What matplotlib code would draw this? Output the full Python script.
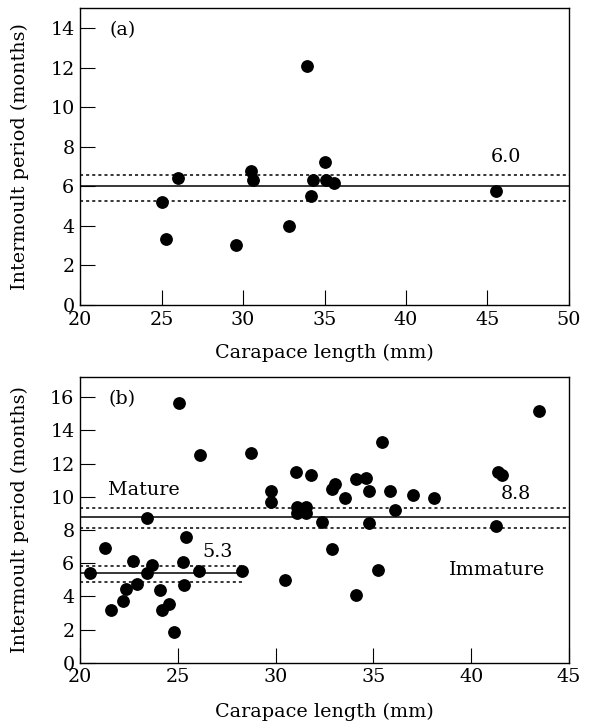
import matplotlib
matplotlib.use('Agg')
import matplotlib.pyplot as plt

# Panel (a) data
a_length = [25.0, 25.3, 26.0, 29.6, 30.5, 30.6, 32.8, 33.9, 34.2, 34.3, 35.0, 35.1, 35.6, 45.5]
a_period = [5.2, 3.35, 6.4, 3.05, 6.8, 6.3, 4.0, 12.1, 5.5, 6.3, 7.25, 6.3, 6.15, 5.75]
a_mean = 6.0
a_band = [5.27, 6.58]

# Panel (b) data
b_length = [20.5, 21.3, 21.6, 22.2, 22.35, 22.7, 22.9, 23.4, 23.45, 23.7, 24.1, 24.2,
            24.55, 24.8, 25.05, 25.25, 25.3, 25.4, 26.1, 26.15, 28.3, 28.75, 29.75, 29.75,
            30.5, 31.05, 31.1, 31.1, 31.55, 31.55, 31.8, 32.35, 32.9, 32.9, 33.05, 33.55,
            34.1, 34.1, 34.6, 34.8, 34.8, 35.25, 35.45, 35.85, 36.1, 37.0, 38.1, 41.25,
            41.35, 41.6, 43.45]
b_period = [5.4, 6.9, 3.2, 3.7, 4.45, 6.1, 4.75, 5.4, 8.7, 5.9, 4.4, 3.2,
            3.55, 1.85, 15.65, 6.05, 4.7, 7.55, 5.5, 12.5, 5.5, 12.65, 10.35, 9.7,
            5.0, 11.5, 9.4, 9.05, 9.4, 9.0, 11.3, 8.5, 10.45, 6.85, 10.75, 9.9,
            11.1, 4.1, 11.15, 10.35, 8.4, 5.6, 13.3, 10.35, 9.2, 10.1, 9.9, 8.25,
            11.5, 11.3, 15.15]
mature_mean = 8.8
mature_band = [8.14, 9.35]
immature_mean = 5.38
immature_band = [4.85, 5.83]
immature_max_len = 28.35

plt.rcParams['font.family'] = ['DejaVu Serif']
plt.rcParams['font.size'] = 13.8

fig = plt.figure(figsize=(5.9, 7.25), dpi=100)
ax1 = fig.add_axes([0.1356, 0.5793, 0.8288, 0.4092])
ax2 = fig.add_axes([0.1356, 0.0859, 0.8288, 0.3937])


def style(ax, xlab_y):
    ax.tick_params(direction='in', length=10.5, width=0.8, top=False, right=False, pad=4)
    for s in ax.spines.values():
        s.set_linewidth(1.0)
    ax.set_xlabel("Carapace length (mm)", va='center')
    ax.set_ylabel("Intermoult period (months)", va='center')
    ax.xaxis.set_label_coords(0.5, xlab_y)
    ax.yaxis.set_label_coords(-0.123, 0.5)


# (a)
ax1.axhline(a_mean, color='black', lw=1.1)
for v in a_band:
    ax1.axhline(v, color='black', lw=1.1, ls=(0, (2, 2)))
ax1.plot(a_length, a_period, 'o', color='black', ms=8.2, zorder=3)
ax1.text(22.6, 13.9, "(a)", ha='center', va='center')
ax1.text(46.15, 7.5, "6.0", ha='center', va='center')
ax1.set_xlim(20, 50)
ax1.set_ylim(0, 15)
ax1.set_xticks(range(20, 51, 5))
ax1.set_yticks(range(0, 15, 2))
style(ax1, -0.162)

# (b)
ax2.axhline(mature_mean, color='black', lw=1.1)
for v in mature_band:
    ax2.axhline(v, color='black', lw=1.1, ls=(0, (2, 2)))
ax2.plot([20, immature_max_len], [immature_mean] * 2, color='black', lw=1.1)
for v in immature_band:
    ax2.plot([20, immature_max_len], [v] * 2, color='black', lw=1.1, ls=(0, (2, 2)))
ax2.plot(b_length, b_period, 'o', color='black', ms=8.2, zorder=3, clip_on=False)
ax2.text(22.15, 15.9, "(b)", ha='center', va='center')
ax2.text(23.25, 10.4, "Mature", ha='center', va='center')
ax2.text(41.3, 5.6, "Immature", ha='center', va='center')
ax2.text(42.3, 10.15, "8.8", ha='center', va='center')
ax2.text(27.05, 6.65, "5.3", ha='center', va='center')
ax2.set_xlim(20, 45)
ax2.set_ylim(0, 17.2)
ax2.set_xticks(range(20, 46, 5))
ax2.set_yticks(range(0, 17, 2))
style(ax2, -0.172)

fig.savefig("out.png", dpi=100)
